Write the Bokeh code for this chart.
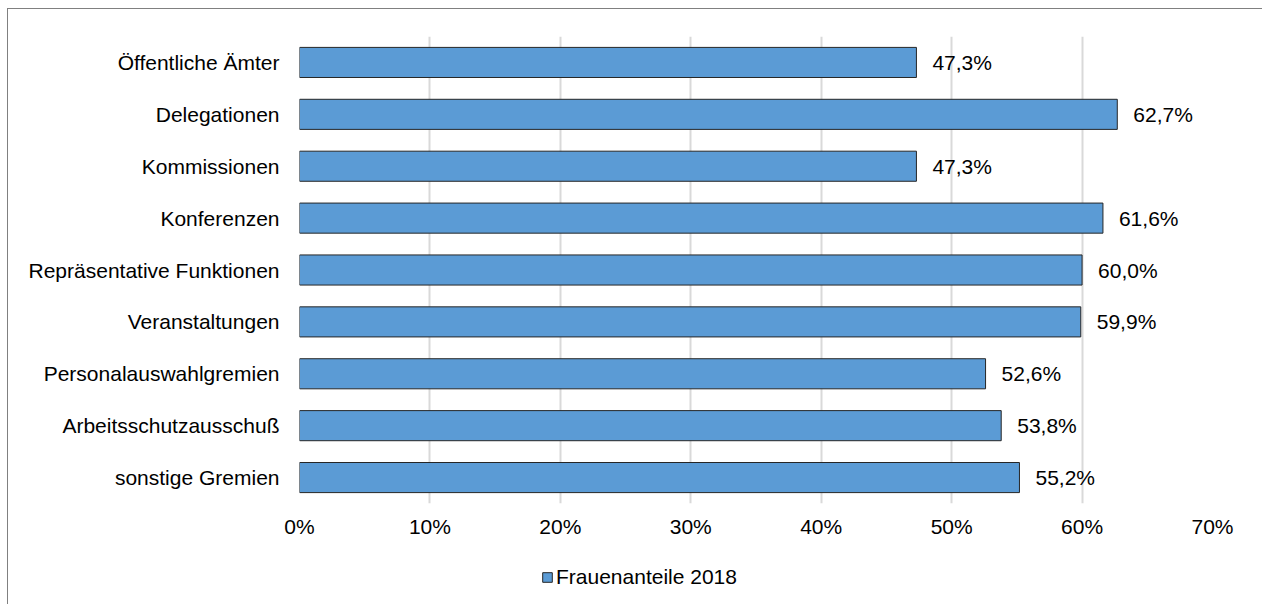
from bokeh.plotting import figure
from bokeh.layouts import column
from bokeh.models import ColumnDataSource, Range1d, FactorRange, NumeralTickFormatter, Legend, LegendItem, FixedTicker, LabelSet
from bokeh.embed import file_html
from bokeh.resources import INLINE
from bokeh.core.properties import value

categories = ["Öffentliche Ämter", "Delegationen", "Kommissionen", "Konferenzen",
              "Repräsentative Funktionen", "Veranstaltungen", "Personalauswahlgremien",
              "Arbeitsschutzausschuß", "sonstige Gremien"]
values = [47.3, 62.7, 47.3, 61.6, 60.0, 59.9, 52.6, 53.8, 55.2]
series_name = "Frauenanteile 2018"
x_ticks = [0, 10, 20, 30, 40, 50, 60, 70]

labels = [("%.1f%%" % v).replace(".", ",") for v in values]
src = ColumnDataSource(dict(cat=categories, val=[v / 100 for v in values], lab=labels))

FONT = "Liberation Sans"
FS = "21px"
BAR_FILL = "#5B9BD5"
BAR_LINE = "#262626"

p = figure(width=1254, height=545, output_backend="svg", toolbar_location=None,
           y_range=FactorRange(factors=list(reversed(categories)), range_padding=0),
           x_range=Range1d(0, 0.7),
           min_border_left=291, min_border_right=50, min_border_top=27, min_border_bottom=51)
p.outline_line_color = None
p.background_fill_color = "white"
p.border_fill_color = "white"

r = p.hbar(y="cat", right="val", height=0.58, source=src, fill_color=BAR_FILL,
           line_color=BAR_LINE, line_width=1)

p.xgrid.grid_line_color = "#d9d9d9"
p.xgrid.grid_line_width = 2
p.ygrid.grid_line_color = None
p.xaxis.ticker = FixedTicker(ticks=[t / 100 for t in x_ticks])
p.xaxis.formatter = NumeralTickFormatter(format="0%")
for ax in (p.xaxis[0], p.yaxis[0]):
    ax.axis_line_color = None
    ax.major_tick_line_color = None
    ax.minor_tick_line_color = None
    ax.major_tick_out = 0
    ax.major_tick_in = 0
    ax.major_label_text_font = FONT
    ax.major_label_text_font_size = FS
    ax.major_label_text_color = "#000000"
p.xaxis.major_label_standoff = 11
p.yaxis.major_label_standoff = 20

lbl = LabelSet(x="val", y="cat", text="lab", source=src, x_offset=16, y_offset=0,
               text_font=value(FONT), text_font_size=FS, text_baseline="middle",
               text_color="#000000")
p.add_layout(lbl)

# legend strip below the chart
lf = figure(width=1254, height=50, output_backend="svg", toolbar_location=None,
            x_range=Range1d(0, 1), y_range=Range1d(0, 1),
            min_border_left=0, min_border_right=0, min_border_top=0, min_border_bottom=0)
lf.axis.visible = False
lf.grid.visible = False
lf.outline_line_color = None
lr = lf.hbar(y=[-10], right=[0.5], height=0.5, fill_color=BAR_FILL, line_color=BAR_LINE, line_width=1)
legend = Legend(items=[LegendItem(label=series_name, renderers=[lr])],
                orientation="horizontal", location=(242, 15),
                label_text_font=FONT, label_text_font_size=FS, label_text_color="#000000",
                glyph_width=12, glyph_height=12, label_standoff=3,
                border_line_color=None, background_fill_alpha=0,
                padding=0, margin=0, spacing=0)
lf.add_layout(legend)

layout = column(p, lf, spacing=0)
layout.styles = {"border-left": "1px solid #808080", "border-top": "1px solid #808080",
                 "margin-left": "7px", "margin-top": "8px", "background": "white"}

open("out.html", "w").write(file_html(layout, INLINE))
